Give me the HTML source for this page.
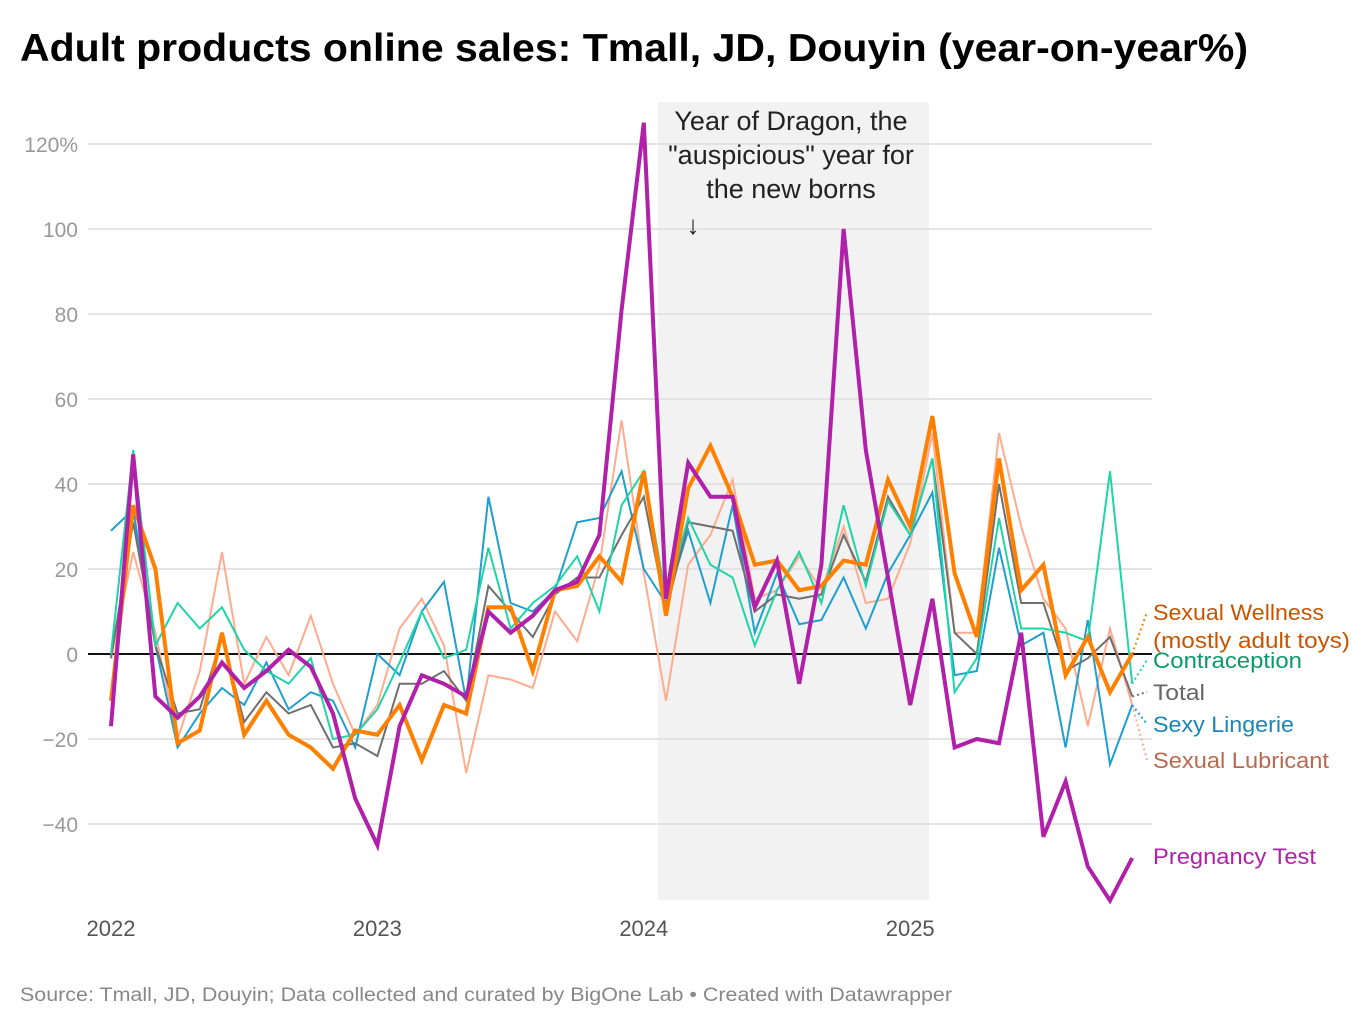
<!DOCTYPE html>
<html><head><meta charset="utf-8">
<style>
body{margin:0;background:#fff;font-family:"Liberation Sans",Arial,sans-serif;}
svg text{font-family:"Liberation Sans",Arial,sans-serif;}
</style></head>
<body>
<svg id="chart" width="1372" height="1028" xmlns="http://www.w3.org/2000/svg">
<text x="20" y="61" font-size="39" font-weight="bold" fill="#000" textLength="1228" lengthAdjust="spacingAndGlyphs">Adult products online sales: Tmall, JD, Douyin (year-on-year%)</text>
<rect x="658" y="102" width="271" height="798" fill="#f2f2f2"/>
<g id="grid"></g>
<g id="lines"></g>
<g id="labels"></g>
<text x="791" y="130" font-size="27" text-anchor="middle" fill="#222">Year of Dragon, the</text>
<text x="791" y="164" font-size="27" text-anchor="middle" fill="#222">"auspicious" year for</text>
<text x="791" y="198" font-size="27" text-anchor="middle" fill="#222">the new borns</text>
<text x="693" y="234" font-size="26" text-anchor="middle" fill="#222">↓</text>
<text x="20" y="1001" font-size="19" fill="#888" textLength="932" lengthAdjust="spacingAndGlyphs">Source: Tmall, JD, Douyin; Data collected and curated by BigOne Lab • Created with Datawrapper</text>
</svg>
<script>
const yTicks=[120,100,80,60,40,20,0,-20,-40];
const yTickLabels=["120%","100","80","60","40","20","0","−20","−40"];
const years=["2022","2023","2024","2025"];
const lubricant=[-1,24,5,-20,-4,24,-7,4,-5,9,-7,-19,-12,6,13,2,-28,-5,-6,-8,10,3,21,55,19,-11,21,28,41,13,15,23,15,30,12,13,26,52,5,5,52,30,13,6,-17,6,-12];
const lingerie=[29,34,2,-22,-14,-8,-12,-2,-13,-9,-11,-22,0,-5,10,17,-11,37,12,10,15,31,32,43,20,12,29,12,35,5,19,7,8,18,6,19,28,38,-5,-4,25,2,5,-22,8,-26,-12];
const total=[-1,31,2,-14,-13,4,-16,-9,-14,-12,-22,-21,-24,-7,-7,-4,-11,16,10,4,14,18,18,28,37,10,31,30,29,10,14,13,14,28,17,37,28,46,5,0,40,12,12,-4,-1,4,-10];
const contraception=[0,48,2,12,6,11,1,-4,-7,-1,-20,-19,-13,-2,10,-1,1,25,6,12,16,23,10,35,43,13,32,21,18,2,15,24,12,35,16,36,28,46,-9,-1,32,6,6,5,3,43,-7];
const wellness=[-11,35,20,-21,-18,5,-19,-11,-19,-22,-27,-18,-19,-12,-25,-12,-14,11,11,-4,15,16,23,17,43,9,39,49,37,21,22,15,16,22,21,41,30,56,19,4,46,15,21,-5,4,-9,0];
const pregnancy=[-17,47,-10,-15,-10,-2,-8,-4,1,-3,-14,-34,-45,-17,-5,-7,-10,10,5,9,15,17,28,81,125,13,45,37,37,11,22,-7,21,100,48,18,-12,13,-22,-20,-21,5,-43,-30,-50,-58,-48];

const series=[
 {name:"sexual-lubricant",data:lubricant,color:"#ffab8e",w:2,lab:"#b86a50",text:["Sexual Lubricant"],ly:[768],tl:[176]},
 {name:"sexy-lingerie",data:lingerie,color:"#1e9fd0",w:2,lab:"#1a86b8",text:["Sexy Lingerie"],ly:[732],tl:[141]},
 {name:"total",data:total,color:"#6f6f6f",w:2,lab:"#666",text:["Total"],ly:[700],tl:[52]},
 {name:"contraception",data:contraception,color:"#1fd4a6",w:2,lab:"#0a9a6a",text:["Contraception"],ly:[668],tl:[149]},
 {name:"sexual-wellness",data:wellness,color:"#ff8000",w:4,lab:"#c85400",text:["Sexual Wellness","(mostly adult toys)"],ly:[620,648],tl:[171,197]},
 {name:"pregnancy-test",data:pregnancy,color:"#b020a8",w:4,lab:"#b020a8",text:["Pregnancy Test"],ly:[864],tl:[163]}
];
const labelAnchorY=[760,724,692,660,612,856];
const NS="http://www.w3.org/2000/svg";
function x(i){return 111+i*22.2;}
function y(v){return 654-v*4.25;}
const grid=document.getElementById('grid');
yTicks.forEach((t,k)=>{
  const l=document.createElementNS(NS,'line');
  l.setAttribute('x1',88);l.setAttribute('x2',1152);l.setAttribute('y1',y(t));l.setAttribute('y2',y(t));
  l.setAttribute('stroke',t===0?'#111':'#e3e3e3');l.setAttribute('stroke-width',2);
  
  
  grid.appendChild(l);
  const tx=document.createElementNS(NS,'text');
  tx.setAttribute('x',78);tx.setAttribute('y',y(t)+8);tx.setAttribute('text-anchor','end');
  tx.setAttribute('font-size','21');tx.setAttribute('fill','#999');
  tx.textContent=yTickLabels[k];
  
  
  grid.appendChild(tx);
});
years.forEach((yr,k)=>{
  const tx=document.createElementNS(NS,'text');
  tx.setAttribute('x',x(k*12));tx.setAttribute('y',936);tx.setAttribute('text-anchor','middle');
  tx.setAttribute('font-size','22');tx.setAttribute('fill','#555');
  tx.textContent=yr;
  
  
  grid.appendChild(tx);
});
const lines=document.getElementById('lines');
const labels=document.getElementById('labels');
series.forEach((s,si)=>{
  const p=document.createElementNS(NS,'polyline');
  p.setAttribute('points',s.data.map((v,i)=>x(i)+','+y(v)).join(' '));
  p.setAttribute('fill','none');p.setAttribute('stroke',s.color);p.setAttribute('stroke-width',s.w);
  
  
  lines.appendChild(p);
  const n=s.data.length-1;
  if(s.name!=='pregnancy-test'){
    const d=document.createElementNS(NS,'line');
    d.setAttribute('x1',x(n));d.setAttribute('y1',y(s.data[n]));
    d.setAttribute('x2',1147);d.setAttribute('y2',labelAnchorY[si]);
    d.setAttribute('stroke',s.color);d.setAttribute('stroke-width',2);d.setAttribute('stroke-dasharray','2,3');
    
    
    lines.appendChild(d);
  }
  s.text.forEach((t,k)=>{
    const tx=document.createElementNS(NS,'text');
    tx.setAttribute('x',1153);tx.setAttribute('y',s.ly[k]);
    tx.setAttribute('font-size','22');tx.setAttribute('fill',s.lab);
    tx.setAttribute('textLength',s.tl[k]);tx.setAttribute('lengthAdjust','spacingAndGlyphs');
    tx.textContent=t;
    
    
    labels.appendChild(tx);
  });
});
</script>
</body></html>
